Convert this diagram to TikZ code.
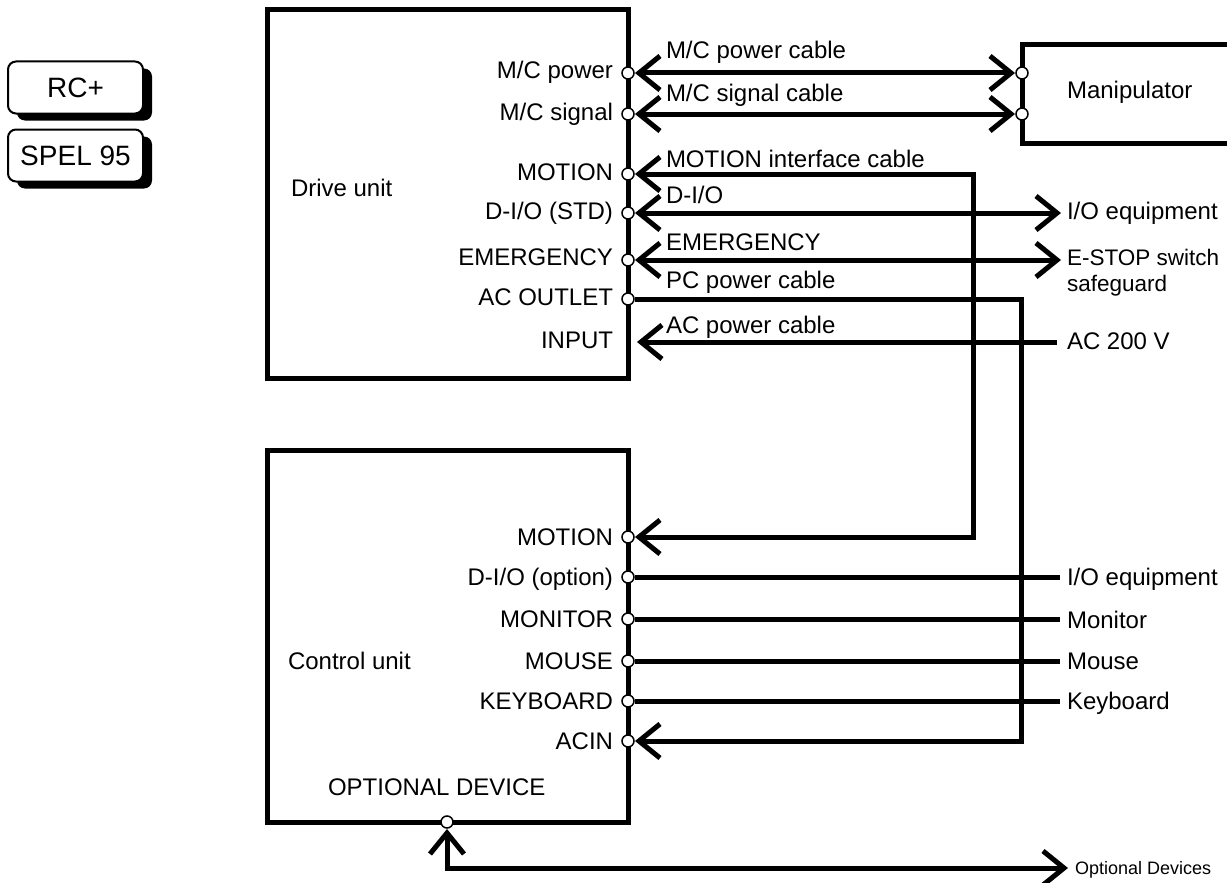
\documentclass[tikz,border=0pt]{standalone}
\usepackage{fontspec}
\setmainfont{Liberation Sans}
\usetikzlibrary{arrows.meta,shadows}
\begin{document}
\begin{tikzpicture}[x=1pt,y=-1pt,
  every node/.style={inner sep=0pt,outer sep=0pt},
  lbl/.style={font=\fontsize{24}{28}\selectfont},
  small/.style={font=\fontsize{22.5}{26}\selectfont},
  tiny/.style={font=\fontsize{18}{22}\selectfont},
  port/.style={circle,draw,fill=white,line width=1.5pt,minimum size=12pt,outer sep=1pt},
  unitbox/.style={draw,line width=5pt,anchor=north west},
  cable/.style={line width=5pt},
  barb/.tip={Straight Barb[length=21pt,width=34pt,sharp]},
  one/.style={cable,-barb},
  two/.style={cable,barb-barb},
  tag/.style={draw,rounded corners=8pt,fill=white,line width=2pt,
    minimum width=135pt,minimum height=52pt,font=\fontsize{28}{32}\selectfont,
    drop shadow={shadow xshift=9pt,shadow yshift=-7pt,opacity=1,fill=black}}
]
\useasboundingbox (0,0) rectangle (1227,883);

% tags
\node[tag] (rc) at (75.5,87.5) {RC+};
\node[tag] (spel) at (75.5,155.5) {SPEL 95};

% units
\node[unitbox,minimum width=361pt,minimum height=368pt] (drive) at (267,10) {};
\node[unitbox,minimum width=361pt,minimum height=372pt] (ctrl) at (267,450) {};
\draw[line width=5pt] (1235,45) -- (1022,45) -- (1022,143) -- (1235,143);

\node[lbl,anchor=base west] (tdrive) at (291,196) {Drive unit};
\node[lbl,anchor=base west] (tctrl) at (288,669) {Control unit};
\node[lbl,anchor=base west] (toptd) at (328,795) {OPTIONAL DEVICE};
\node[lbl,anchor=base west] (tman) at (1067,99) {Manipulator};

% drive ports
\node[port] (mcp) at (628,73) {};
\node[port] (mcs) at (628,114) {};
\node[port] (motd) at (628,174) {};
\node[port] (dio) at (628,213) {};
\node[port] (emg) at (628,260) {};
\node[port] (acout) at (628,299) {};
\coordinate (inp) at (637,342);
% manipulator ports
\node[port] (manp) at (1022,73) {};
\node[port] (mans) at (1022,114) {};
% control ports
\node[port] (motc) at (628,537) {};
\node[port] (dioo) at (628,577) {};
\node[port] (mon) at (628,619) {};
\node[port] (mou) at (628,661) {};
\node[port] (key) at (628,701) {};
\node[port] (acin) at (628,741) {};
\node[port] (opt) at (447,822) {};

% drive port labels
\node[lbl,anchor=base east] (lmcp) at (613,79) {M/C power};
\node[lbl,anchor=base east] (lmcs) at (613,121) {M/C signal};
\node[lbl,anchor=base east] (lmotd) at (613,180) {MOTION};
\node[lbl,anchor=base east] (ldio) at (613,219) {D-I/O (STD)};
\node[lbl,anchor=base east] (lemg) at (613,265) {EMERGENCY};
\node[lbl,anchor=base east] (lacout) at (613,305) {AC OUTLET};
\node[lbl,anchor=base east] (linp) at (613,348) {INPUT};
% control port labels
\node[lbl,anchor=base east] (lmotc) at (613,545) {MOTION};
\node[lbl,anchor=base east] (ldioo) at (613,585) {D-I/O (option)};
\node[lbl,anchor=base east] (lmon) at (613,627) {MONITOR};
\node[lbl,anchor=base east] (lmou) at (613,669) {MOUSE};
\node[lbl,anchor=base east] (lkey) at (613,709) {KEYBOARD};
\node[lbl,anchor=base east] (lacin) at (613,749) {ACIN};

% cable labels
\node[lbl,anchor=base west] (cmcp) at (666,59) {M/C power cable};
\node[lbl,anchor=base west] (cmcs) at (666,102) {M/C signal cable};
\node[lbl,anchor=base west] (cmot) at (666,167) {MOTION interface cable};
\node[lbl,anchor=base west] (cdio) at (666,203) {D-I/O};
\node[lbl,anchor=base west] (cemg) at (666,250) {EMERGENCY};
\node[lbl,anchor=base west] (cpc) at (666,288) {PC power cable};
\node[lbl,anchor=base west] (cac) at (666,333) {AC power cable};

% right labels
\node[lbl,anchor=base west] (rio) at (1067,219) {I/O equipment};
\node[small,anchor=base west] (rest) at (1067,265) {E-STOP switch};
\node[small,anchor=base west] (rsafe) at (1067,291) {safeguard};
\node[lbl,anchor=base west] (rac) at (1067,349) {AC 200 V};
\node[lbl,anchor=base west] (rio2) at (1067,585) {I/O equipment};
\node[lbl,anchor=base west] (rmon) at (1067,628) {Monitor};
\node[lbl,anchor=base west] (rmou) at (1067,669) {Mouse};
\node[lbl,anchor=base west] (rkey) at (1067,709) {Keyboard};
\node[tiny,anchor=base west] (ropt) at (1075,874) {Optional Devices};

% free ends
\coordinate (eio) at (1061,213);
\coordinate (eemg) at (1061,260);
\coordinate (eac) at (1057,342);
\coordinate (mx) at (973,350);
\coordinate (px) at (1021,500);
\coordinate (eio2) at (1060,577);
\coordinate (emon) at (1060,619);
\coordinate (emou) at (1060,661);
\coordinate (ekey) at (1060,701);
\coordinate (eopt) at (1068,868);

% connectors
\draw[two] (mcp) -- (manp);
\draw[two] (mcs) -- (mans);
\draw[two] (motd) -| (mx) |- (motc);
\draw[two] (dio) -- (eio);
\draw[two] (emg) -- (eemg);
\draw[one] (acout) -| (px) |- (acin);
\draw[one] (eac) -- (inp);
\draw[cable] (dioo) -- (eio2);
\draw[cable] (mon) -- (emon);
\draw[cable] (mou) -- (emou);
\draw[cable] (key) -- (ekey);
\draw[two] (opt) |- (eopt);
\end{tikzpicture}
\end{document}
